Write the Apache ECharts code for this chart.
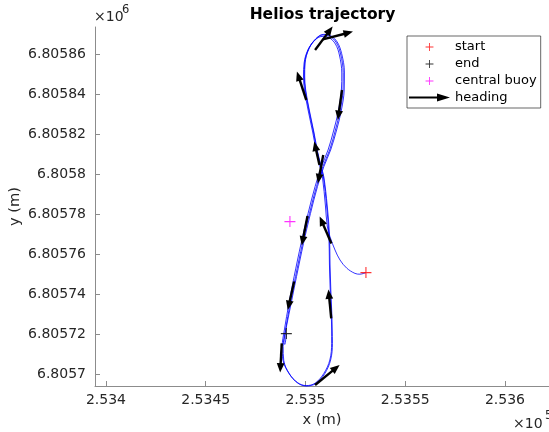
<!DOCTYPE html>
<html>
<head>
<meta charset="utf-8">
<script src="https://cdn.jsdelivr.net/npm/echarts@6/dist/echarts.min.js"></script>
<style>
html, body { margin: 0; padding: 0; background: #fff; }
#chart { width: 549px; height: 432px; }
</style>
</head>
<body>
<div id="chart"></div>
<script>
// Marker positions (UTM metres)
const startPos = [253530.3, 6805750.7];
const endPos = [253490.4, 6805720.2];
const buoyPos = [253492.2, 6805776.2];

// Trajectory, split into its three laps of the figure-eight
const lap1 = [
  [253530.3, 6805750.7], [253527.3, 6805749.9], [253524.8, 6805750.3], [253520.7, 6805752.9],
  [253517.3, 6805757.0], [253514.8, 6805762.0], [253512.3, 6805768.6], [253510.9, 6805774.0],
  [253510.0, 6805784.0], [253508.5, 6805798.5], [253507.2, 6805804.0], [253505.5, 6805811.0],
  [253503.6, 6805821.0], [253501.3, 6805832.0], [253499.5, 6805842.0], [253499.0, 6805849.0],
  [253499.3, 6805855.5], [253501.2, 6805862.0], [253504.6, 6805866.8], [253508.3, 6805868.8],
  [253511.8, 6805868.2], [253515.0, 6805865.0], [253517.0, 6805859.5], [253518.2, 6805850.5],
  [253518.0, 6805842.0], [253516.6, 6805832.0], [253514.2, 6805822.0], [253511.3, 6805812.0],
  [253508.0, 6805803.7], [253504.8, 6805793.7], [253501.3, 6805780.3], [253497.8, 6805765.3],
  [253494.3, 6805748.7], [253491.7, 6805735.3], [253489.4, 6805722.0], [253488.3, 6805713.7],
  [253488.7, 6805707.0], [253491.7, 6805700.3], [253496.0, 6805695.7], [253500.3, 6805694.2],
  [253504.8, 6805695.4], [253509.2, 6805700.3], [253512.2, 6805707.0], [253513.1, 6805715.3]
];
const lap2 = [
  [253513.1, 6805722.0], [253512.9, 6805730.0], [253512.4, 6805742.0], [253512.0, 6805755.0],
  [253511.7, 6805770.0], [253510.6, 6805784.0], [253509.0, 6805798.5], [253507.6, 6805804.0],
  [253505.9, 6805811.0], [253504.0, 6805821.0], [253501.7, 6805832.0], [253499.9, 6805842.0],
  [253499.4, 6805849.0], [253499.6, 6805855.5], [253501.5, 6805862.4], [253505.0, 6805867.4],
  [253508.6, 6805869.5], [253512.2, 6805868.9], [253515.5, 6805865.6], [253517.6, 6805860.0],
  [253518.9, 6805850.8], [253518.8, 6805842.0], [253517.4, 6805832.0], [253515.0, 6805822.0],
  [253512.1, 6805812.0], [253508.7, 6805803.7], [253505.5, 6805793.7], [253502.0, 6805780.3],
  [253498.5, 6805765.3], [253495.0, 6805748.7], [253492.3, 6805735.3], [253490.0, 6805722.0],
  [253488.8, 6805713.7], [253489.1, 6805706.8], [253492.0, 6805700.0], [253496.2, 6805695.4],
  [253500.5, 6805694.0], [253505.1, 6805695.2], [253509.6, 6805700.1], [253512.6, 6805707.0],
  [253513.5, 6805715.3]
];
const lap3 = [
  [253513.4, 6805722.0], [253513.2, 6805730.0], [253512.7, 6805742.0], [253512.3, 6805755.0],
  [253512.0, 6805770.0], [253510.9, 6805784.0], [253509.2, 6805798.5], [253507.8, 6805804.0],
  [253506.1, 6805811.0], [253504.2, 6805821.0], [253501.9, 6805832.0], [253500.1, 6805842.0],
  [253499.6, 6805849.0], [253499.8, 6805855.5], [253501.8, 6805862.7], [253505.3, 6805867.7],
  [253508.9, 6805869.8], [253512.5, 6805869.2], [253515.9, 6805866.0], [253518.1, 6805860.3],
  [253519.5, 6805851.0], [253519.4, 6805842.0], [253518.0, 6805832.0], [253515.6, 6805822.0],
  [253512.6, 6805812.0], [253509.2, 6805803.7], [253506.0, 6805793.7], [253502.5, 6805780.3],
  [253499.0, 6805765.3], [253495.5, 6805748.7], [253492.8, 6805735.3], [253490.5, 6805724.0],
  [253489.6, 6805719.0], [253489.2, 6805715.5], [253489.6, 6805714.8], [253490.4, 6805720.2]
];

// Heading arrows: tail and tip positions
const headingFrom = [
  [253504.8, 6805862.0], [253508.7, 6805867.3], [253500.4, 6805837.0], [253518.3, 6805842.0],
  [253507.0, 6805804.5], [253508.9, 6805809.5], [253501.0, 6805779.0], [253513.0, 6805765.3],
  [253494.3, 6805746.2], [253512.9, 6805727.8], [253488.1, 6805715.3], [253504.8, 6805694.5]
];
const headingTo = [
  [253513.6, 6805873.7], [253523.8, 6805871.2], [253495.7, 6805851.2], [253516.2, 6805827.0],
  [253504.4, 6805816.2], [253506.2, 6805795.3], [253498.1, 6805764.2], [253507.1, 6805778.8],
  [253491.1, 6805732.0], [253511.5, 6805742.3], [253487.3, 6805700.7], [253517.1, 6805704.5]
];

// Axis ticks
const xTicks = [253400, 253450, 253500, 253550, 253600];
const yTicks = [6805700, 6805720, 6805740, 6805760, 6805780, 6805800, 6805820, 6805840, 6805860];

const FONT = 'DejaVu Sans';
const TXT = '#262626';
const AXIS = '#8c8c8c';
const crossPath = 'path://M4.5,0h1v4.5h4.5v1h-4.5v4.5h-1v-4.5h-4.5v-1h4.5z';
const crossIcon = 'path://M0,0M16,16M7.5,3.5h1v4h4v1h-4v4h-1v-4h-4v-1h4z';
const arrowIcon = 'path://M0,6h28v-3l13,4l-13,4v-3h-28z';

const trajectory = lap1.concat(lap2, lap3);
const headingData = headingFrom.map((p, i) => [p[0], p[1], headingTo[i][0], headingTo[i][1]]);

const chart = echarts.init(document.getElementById('chart'), null, { renderer: 'canvas', width: 549, height: 432 });

function plainText(x, y, text, font, fill) {
  return {
    type: 'text', x: x, y: y, silent: true,
    style: { text: text, fill: fill, font: font,
             textAlign: 'left', align: 'left', textVerticalAlign: 'middle', verticalAlign: 'middle' }
  };
}

chart.setOption({
  animation: false,
  backgroundColor: '#fff',
  grid: { left: 95, right: 0, top: 27, bottom: 46, containLabel: false, outerBoundsMode: 'none' },
  xAxis: {
    type: 'value',
    min: 253394.49,
    max: 253622.06,
    position: 'bottom',
    axisLine: { show: true, onZero: false, lineStyle: { color: AXIS, width: 1 } },
    axisTick: { show: true, inside: true, length: 5, customValues: xTicks, lineStyle: { color: AXIS, width: 1 } },
    axisLabel: {
      customValues: xTicks,
      margin: 7,
      color: TXT,
      fontFamily: FONT,
      fontSize: 14,
      formatter: v => String(Number((v / 1e5).toPrecision(8)))
    },
    splitLine: { show: false },
    name: 'x (m)',
    nameLocation: 'middle',
    nameGap: 27,
    nameMoveOverlap: false,
    nameTextStyle: { fontFamily: FONT, fontSize: 14.7, color: TXT }
  },
  yAxis: {
    type: 'value',
    min: 6805694,
    max: 6805873.5,
    position: 'left',
    axisLine: { show: true, onZero: false, lineStyle: { color: AXIS, width: 1 } },
    axisTick: { show: true, inside: true, length: 5, customValues: yTicks, lineStyle: { color: AXIS, width: 1 } },
    axisLabel: {
      customValues: yTicks,
      margin: 9,
      color: TXT,
      fontFamily: FONT,
      fontSize: 14,
      formatter: v => String(Number((v / 1e6).toPrecision(9)))
    },
    splitLine: { show: false },
    name: 'y (m)',
    nameLocation: 'middle',
    nameGap: 72,
    nameMoveOverlap: false,
    nameTextStyle: { fontFamily: FONT, fontSize: 14.7, color: TXT }
  },
  legend: {
    orient: 'vertical',
    left: 407,
    top: 36,
    padding: [4, 4, 4, 2],
    itemGap: 3,
    itemWidth: 41,
    itemHeight: 14,
    borderColor: '#262626',
    borderWidth: 0.7,
    backgroundColor: '#fff',
    selectedMode: false,
    textStyle: { fontFamily: FONT, fontSize: 13, color: '#000' },
    data: [
      { name: 'start', icon: crossIcon },
      { name: 'end', icon: crossIcon },
      { name: 'central buoy', icon: crossIcon },
      { name: 'heading', icon: arrowIcon, itemStyle: { color: '#000' } }
    ]
  },
  graphic: [
    { type: 'text', x: 322.5, y: 15, silent: true,
      style: { text: 'Helios trajectory', fill: '#000', font: 'bold 15.5px "DejaVu Sans"',
               textAlign: 'center', align: 'center', textVerticalAlign: 'middle', verticalAlign: 'middle' } },
    plainText(94, 17, '×10', '14px "DejaVu Sans"', TXT),
    plainText(122, 10, '6', '11.5px "DejaVu Sans"', TXT),
    plainText(513, 424, '×10', '14px "DejaVu Sans"', TXT),
    plainText(545, 416, '5', '11.5px "DejaVu Sans"', TXT)
  ],
  series: [
    {
      name: 'trajectory',
      type: 'line',
      data: trajectory,
      showSymbol: false,
      smooth: 0.35,
      clip: false,
      z: 2,
      lineStyle: { color: '#0000ff', width: 0.8 }
    },
    {
      name: 'heading',
      type: 'custom',
      data: headingData,
      encode: { x: [0, 2], y: [1, 3] },
      clip: false,
      z: 3,
      itemStyle: { color: '#000' },
      renderItem: function (params, api) {
        const a = api.coord([api.value(0), api.value(1)]);
        const b = api.coord([api.value(2), api.value(3)]);
        const dx = b[0] - a[0], dy = b[1] - a[1];
        const len = Math.hypot(dx, dy) || 1;
        const ux = dx / len, uy = dy / len;
        const hl = 9.5, hw = 3.9;
        const bx = b[0] - ux * hl, by = b[1] - uy * hl;
        return {
          type: 'group',
          children: [
            { type: 'line', shape: { x1: a[0], y1: a[1], x2: bx + ux, y2: by + uy },
              style: { stroke: '#000', lineWidth: 2.4, lineCap: 'butt' } },
            { type: 'polygon',
              shape: { points: [[b[0], b[1]], [bx - uy * hw, by + ux * hw], [bx + uy * hw, by - ux * hw]] },
              style: { fill: '#000' } }
          ]
        };
      }
    },
    {
      name: 'start', type: 'scatter', data: [startPos], symbol: crossPath, symbolSize: 11,
      z: 4, itemStyle: { color: '#ff0000' }
    },
    {
      name: 'end', type: 'scatter', data: [endPos], symbol: crossPath, symbolSize: 11,
      z: 4, itemStyle: { color: '#000000' }
    },
    {
      name: 'central buoy', type: 'scatter', data: [buoyPos], symbol: crossPath, symbolSize: 11,
      z: 4, itemStyle: { color: '#ff00ff' }
    }
  ]
});
</script>
</body>
</html>
